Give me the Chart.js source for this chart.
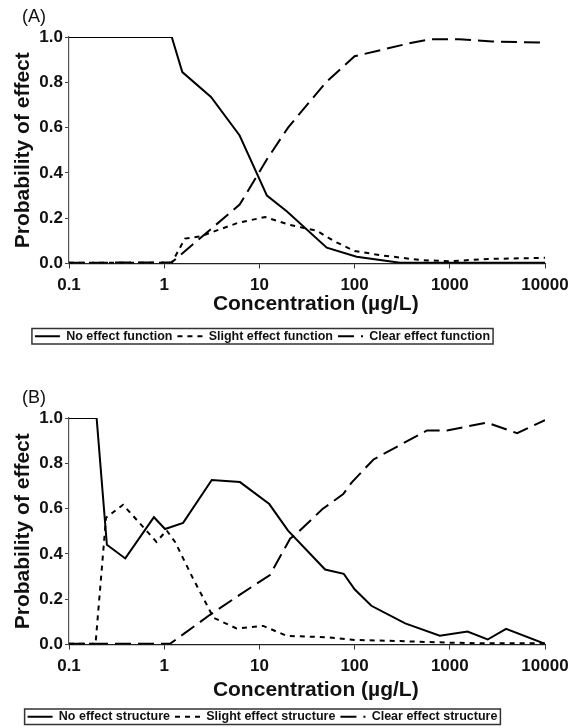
<!DOCTYPE html>
<html>
<head>
<meta charset="utf-8">
<script src="https://cdn.jsdelivr.net/npm/chart.js@4.4.1/dist/chart.umd.min.js"></script>
<style>
  html, body { margin: 0; padding: 0; background: #fff; }
  body { width: 578px; height: 728px; position: relative; overflow: hidden; }
  canvas { position: absolute; left: -20px; }
  #chartA { top: 0; }
  #chartB { top: 349px; }
</style>
</head>
<body>
<canvas id="chartA" width="598" height="355"></canvas>
<canvas id="chartB" width="598" height="384"></canvas>
<script>
'use strict';

const tickValues = [0.1, 1, 10, 100, 1000, 10000];
const tickLabels = ['0.1', '1', '10', '100', '1000', '10000'];

// (A) function
const noEffFnX = [0.1, 1.2, 1.55, 3.1, 6.2, 12, 19.5, 51, 105, 300, 10000];
const noEffFnY = [1.0, 1.0, 0.845, 0.735, 0.565, 0.30, 0.23, 0.07, 0.03, 0.003, 0.003];
const slightFnX = [0.1, 1.2, 1.65, 2.4, 6, 11.5, 21, 40, 60, 100, 200, 500, 1000, 2500, 10000];
const slightFnY = [0.003, 0.003, 0.11, 0.12, 0.18, 0.205, 0.17, 0.145, 0.1, 0.055, 0.035, 0.015, 0.01, 0.02, 0.025];
const clearFnX = [0.1, 1.2, 6.2, 12, 20, 50, 100, 200, 400, 620, 1250, 2800, 10000];
const clearFnY = [0.003, 0.005, 0.26, 0.46, 0.6, 0.8, 0.915, 0.945, 0.975, 0.99, 0.99, 0.98, 0.975];

// (B) structure
const noEffStX = [0.1, 0.195, 0.25, 0.39, 0.78, 1.02, 1.58, 3.16, 6.25, 12.7, 20, 49, 77, 100, 150, 340, 785, 1535, 2500, 3900, 10000];
const noEffStY = [1.0, 1.0, 0.44, 0.38, 0.562, 0.51, 0.537, 0.726, 0.717, 0.62, 0.503, 0.331, 0.312, 0.244, 0.171, 0.093, 0.039, 0.057, 0.022, 0.069, 0.003];
const slightStX = [0.1, 0.19, 0.245, 0.37, 0.83, 1.06, 1.3, 2.0, 3.3, 5.75, 11, 19.4, 50, 100, 300, 1000, 2500, 10000];
const slightStY = [0.003, 0.003, 0.56, 0.617, 0.453, 0.504, 0.453, 0.293, 0.118, 0.071, 0.082, 0.038, 0.032, 0.02, 0.015, 0.008, 0.005, 0.005];
const clearStX = [0.1, 1.15, 3.0, 6.25, 12.9, 21, 24.6, 46, 76, 93, 158, 575, 935, 2450, 5100, 10000];
const clearStY = [0.003, 0.003, 0.13, 0.22, 0.307, 0.467, 0.49, 0.598, 0.664, 0.715, 0.817, 0.945, 0.945, 0.98, 0.933, 0.991];

const FONT = "'Liberation Sans', Arial, Helvetica, sans-serif";
const dashes = { none: [], slight: [5, 5], clear: [16, 7] };

const toPoints = (xs, ys) => xs.map((x, i) => ({ x: x, y: ys[i] }));

// box round the legend and the panel letter
const legendFrame = {
    id: 'legendFrame',
    afterDraw(chart, args, opts) {
        const boxes = chart.legend.legendHitBoxes;
        const c = chart.ctx;
        c.save();
        if (boxes && boxes.length) {
            const first = boxes[0];
            const last = boxes[boxes.length - 1];
            c.strokeStyle = '#333';
            c.lineWidth = 1.5;
            c.strokeRect(first.left - 3, first.top - 1.5, last.left + last.width - first.left + 6, first.height + 3);
        }
        c.fillStyle = '#111';
        c.font = '18px ' + FONT;
        c.textBaseline = 'middle';
        c.fillText(opts.text, opts.x, opts.y);
        c.restore();
    }
};

const makeChart = (id, panel, series, lay) => {
    const datasets = series.map(s => ({
        label: s.label,
        data: toPoints(s.xs, s.ys),
        borderColor: '#000',
        backgroundColor: '#000',
        borderWidth: 2,
        borderDash: s.dash,
        pointRadius: 0,
        tension: 0
    }));

    const ctx = document.getElementById(id).getContext('2d');
    return new Chart(ctx, {
        type: 'line',
        data: { datasets: datasets },
        options: {
            responsive: false,
            animation: false,
            layout: { padding: { top: lay.top, right: 33, bottom: lay.bottom, left: 0 } },
            plugins: {
                legend: {
                    position: 'bottom',
                    labels: {
                        usePointStyle: true,
                        pointStyle: 'line',
                        pointStyleWidth: 25,
                        padding: 5,
                        color: '#111',
                        font: { family: FONT, size: 12.5, weight: 'bold' },
                        generateLabels: chart => Chart.defaults.plugins.legend.labels.generateLabels(chart).map(item => {
                            item.lineDash = chart.data.datasets[item.datasetIndex].borderDash;
                            item.lineWidth = 2;
                            return item;
                        })
                    }
                },
                tooltip: { enabled: false },
                legendFrame: { text: panel, x: 42, y: lay.panelY }
            },
            scales: {
                x: {
                    type: 'logarithmic',
                    min: 0.1,
                    max: 10000,
                    afterBuildTicks: s => { s.ticks = tickValues.map(v => ({ value: v })); },
                    afterFit: s => { s.height = lay.xHeight; },
                    ticks: {
                        autoSkip: false,
                        maxRotation: 0,
                        padding: 7,
                        color: '#111',
                        font: { family: FONT, size: 17, weight: 'bold' },
                        callback: (v, i) => tickLabels[i]
                    },
                    grid: { drawOnChartArea: false, tickLength: 5, color: '#333' },
                    border: { color: '#222', width: 1.2 },
                    title: {
                        display: true,
                        text: '   Concentration (µg/L)',
                        color: '#111',
                        font: { family: FONT, size: 21, weight: 'bold' },
                        padding: { top: 0, bottom: lay.titlePad }
                    }
                },
                y: {
                    min: 0,
                    max: 1,
                    afterFit: s => { s.width = 89; },
                    ticks: {
                        stepSize: 0.2,
                        padding: 2,
                        color: '#111',
                        font: { family: FONT, size: 17, weight: 'bold' },
                        callback: v => v.toFixed(1)
                    },
                    grid: { drawOnChartArea: false, tickLength: 4, color: '#444' },
                    border: { color: '#555', width: 1.2 },
                    title: {
                        display: true,
                        text: 'Probability of effect',
                        color: '#111',
                        font: { family: FONT, size: 21, weight: 'bold' },
                        padding: { top: 30.4, bottom: 0 }
                    }
                }
            }
        },
        plugins: [legendFrame]
    });
};

makeChart('chartA', '(A)', [
    { label: 'No effect function', xs: noEffFnX, ys: noEffFnY, dash: dashes.none },
    { label: 'Slight effect function', xs: slightFnX, ys: slightFnY, dash: dashes.slight },
    { label: 'Clear effect function', xs: clearFnX, ys: clearFnY, dash: dashes.clear }
], { top: 37, bottom: 2.5, xHeight: 61.5, titlePad: 7.9, panelY: 17 });

makeChart('chartB', '(B)', [
    { label: 'No effect structure', xs: noEffStX, ys: noEffStY, dash: dashes.none },
    { label: 'Slight effect structure', xs: slightStX, ys: slightStY, dash: dashes.slight },
    { label: 'Clear effect structure', xs: clearStX, ys: clearStY, dash: dashes.clear }
], { top: 69, bottom: 0, xHeight: 61, titlePad: 2.4, panelY: 49 });
</script>
</body>
</html>
